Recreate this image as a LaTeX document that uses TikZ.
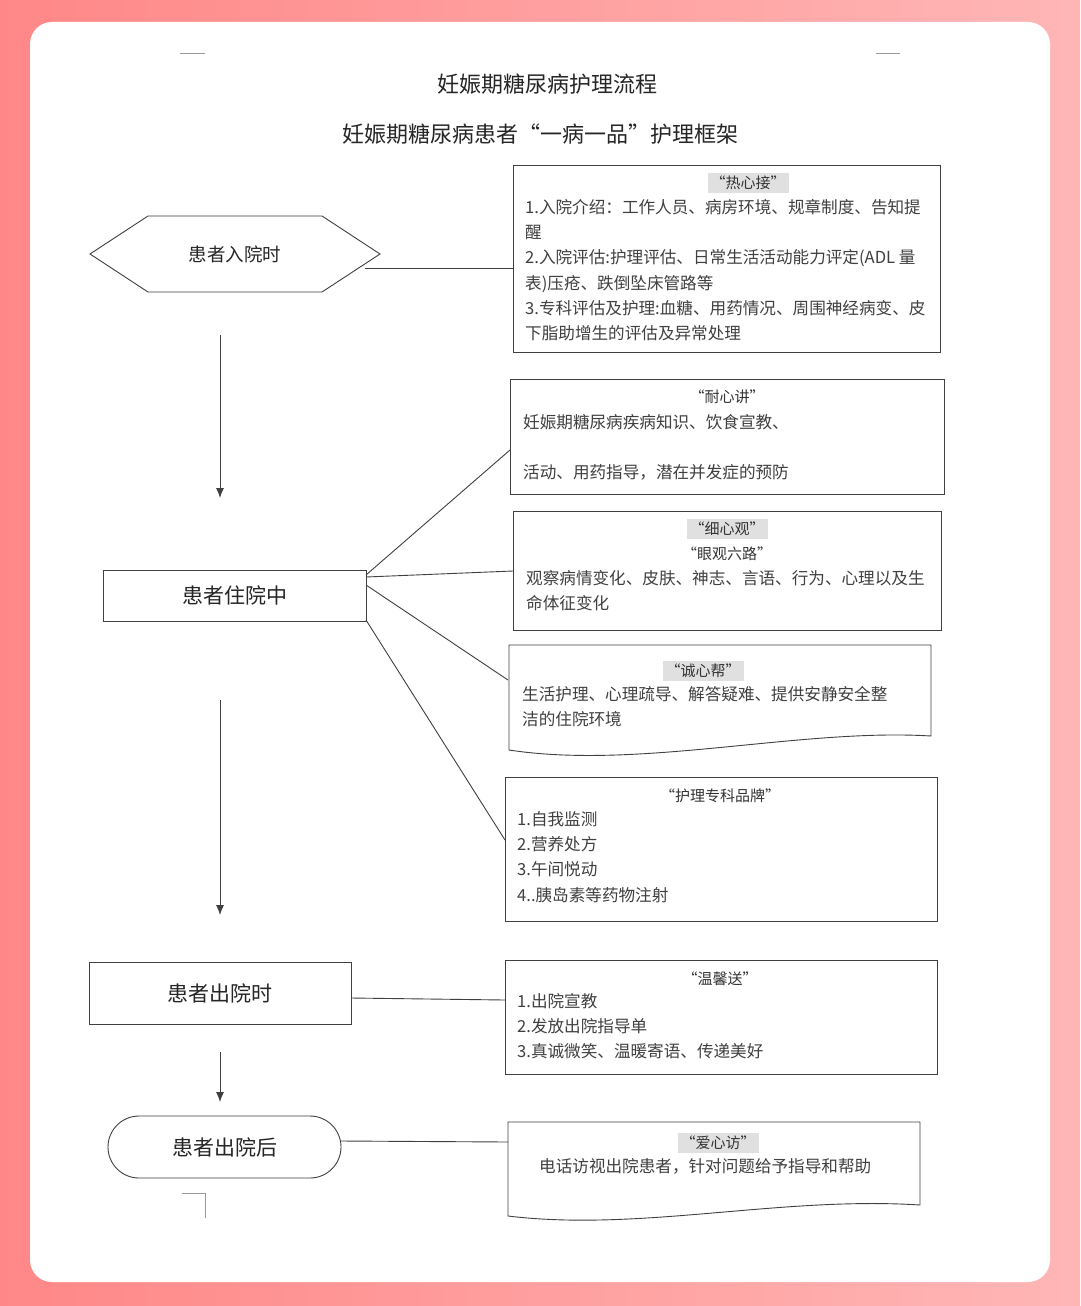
\documentclass[tikz,border=0pt]{standalone}
\usepackage{fontspec}
\usetikzlibrary{arrows.meta}
\setmainfont{Noto Sans CJK SC}
\begin{document}
\begin{tikzpicture}[x=1pt,y=-1pt,
  ln/.style={draw=black!75,line width=0.9pt},
  bx/.style={ln,fill=white},
  txt/.style={font=\fontsize{16.6}{25.3}\selectfont,text=black!75,anchor=north west,align=left,inner sep=0pt},
  hd/.style={font=\fontsize{15}{16}\selectfont,text=black!80,fill=black!12,inner sep=3pt},
  hd0/.style={font=\fontsize{15}{16}\selectfont,text=black!80,inner sep=3pt},
  lbl/.style={font=\fontsize{21}{22}\selectfont,text=black!85},
  arr/.style={ln,-{Latex[length=10pt,width=8pt]}}]
\useasboundingbox (0,0) rectangle (1080,1306);
\shade[left color=red!45!pink!80,right color=red!30!pink!60] (0,0) rectangle (1080,1306);
\fill[white,rounded corners=22pt] (30,22) rectangle (1050,1282);
\draw[black!40] (180,53)--(205,53) (876,53)--(900,53) (182,1193)--(205,1193)--(205,1218);
\node[font=\fontsize{22}{24}\selectfont,text=black!85] (t1) at (547,84) {妊娠期糖尿病护理流程};
\node[font=\fontsize{22}{24}\selectfont,text=black!85] (t2) at (540,134) {妊娠期糖尿病患者“一病一品”护理框架};
% left column
\draw[ln] (90,254)--(148,216)--(322,216)--(380,254)--(322,292)--(148,292)--cycle;
\node[lbl,font=\fontsize{18.5}{20}\selectfont] (h) at (235,254) {患者入院时};
\coordinate (hR) at (365,268);
\node[bx,minimum width=263pt,minimum height=51pt,lbl] (z) at (234.5,595.5) {患者住院中};
\node[bx,minimum width=262pt,minimum height=62pt,lbl] (c) at (220,993) {患者出院时};
\node[bx,rounded corners=31pt,minimum width=233pt,minimum height=62pt,lbl] (a) at (224.5,1147) {患者出院后};
\coordinate (a1) at (220,335); \coordinate (a2) at (220,498);
\coordinate (b1) at (220,700); \coordinate (b2) at (220,915);
\coordinate (c1) at (220,1052); \coordinate (c2) at (220,1102);
\draw[arr] (a1)--(a2); \draw[arr] (b1)--(b2); \draw[arr] (c1)--(c2);
% right boxes
\draw[bx] (513,165) rectangle (940,352);
\coordinate (B1) at (513,268);
\node[hd] at (748,183) {“热心接”};
\node[txt] at (525,199) {1.入院介绍：工作人员、病房环境、规章制度、告知提\\醒\\2.入院评估:护理评估、日常生活活动能力评定(ADL 量\\表)压疮、跌倒坠床管路等\\3.专科评估及护理:血糖、用药情况、周围神经病变、皮\\下脂助增生的评估及异常处理};
\draw[bx] (510,379) rectangle (944,494);
\coordinate (B2) at (510,450);
\node[hd0] at (727,397) {“耐心讲”};
\node[txt] at (523,414) {妊娠期糖尿病疾病知识、饮食宣教、\\[25pt]活动、用药指导，潜在并发症的预防};
\draw[bx] (513,511) rectangle (941,630);
\coordinate (B3) at (513,571);
\node[hd] at (727,529) {“细心观”};
\node[hd0] at (727,554) {“眼观六路”};
\node[txt] at (526,570) {观察病情变化、皮肤、神志、言语、行为、心理以及生\\命体征变化};
\draw[bx] (509,750)--(509,645)--(931,645)--(931,736) .. controls (800,728) and (640,770) .. cycle;
\coordinate (B4) at (508,680);
\node[hd] at (703,671) {“诚心帮”};
\node[txt] at (522,686) {生活护理、心理疏导、解答疑难、提供安静安全整\\洁的住院环境};
\draw[bx] (505,777) rectangle (937,921);
\coordinate (B5) at (505,840);
\node[hd0] at (720,796) {“护理专科品牌”};
\node[txt] at (517,811) {1.自我监测\\2.营养处方\\3.午间悦动\\4..胰岛素等药物注射};
\draw[bx] (505,960) rectangle (937,1074);
\coordinate (B6) at (505,1000);
\node[hd0] at (720,979) {“温馨送”};
\node[txt] at (517,993) {1.出院宣教\\2.发放出院指导单\\3.真诚微笑、温暖寄语、传递美好};
\draw[bx] (508,1216)--(508,1122)--(920,1122)--(920,1205) .. controls (780,1196) and (640,1232) .. cycle;
\coordinate (B7) at (508,1142);
\node[hd] at (718,1143) {“爱心访”};
\node[txt] at (539,1158) {电话访视出院患者，针对问题给予指导和帮助};
% connectors
\coordinate (z1) at (366,575); \coordinate (z2) at (366,577);
\coordinate (z3) at (366,585); \coordinate (z4) at (366,620);
\coordinate (cE) at (351,998); \coordinate (aE) at (341,1141);
\draw[ln] (hR)--(B1);
\draw[ln] (z1)--(B2);
\draw[ln] (z2)--(B3);
\draw[ln] (z3)--(B4);
\draw[ln] (z4)--(B5);
\draw[ln] (cE)--(B6);
\draw[ln] (aE)--(B7);
\end{tikzpicture}
\end{document}
